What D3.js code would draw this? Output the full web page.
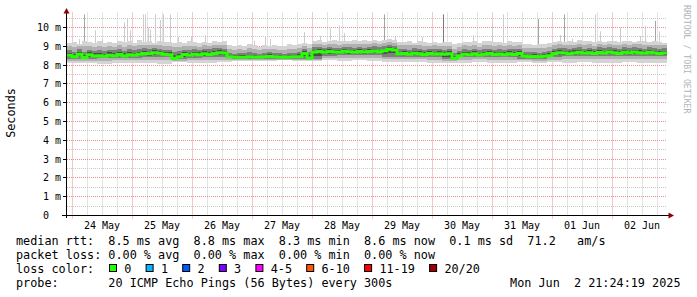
<!DOCTYPE html>
<html>
<head>
<meta charset="utf-8">
<title>SmokePing - last 10 days</title>
<script src="https://d3js.org/d3.v7.min.js"></script>
<style>
    body { margin: 0; background: #fff; }
    svg text { font-family: "DejaVu Sans Mono", monospace; white-space: pre; }
    .tick-label { font-size: 10px; fill: #000; }
    .legend { font-size: 11.8px; fill: #000; }
    .credit { font-size: 8.2px; fill: #b4b4b4; }
</style>
</head>
<body>
<svg width="697" height="297"></svg>
<script>
// time span of the graph
var start = new Date(2025, 4, 23, 22, 0);
var end = new Date(2025, 5, 2, 22, 0);
var slotHours = 2;   // resolution of medianRtt, coreHi and smokeMax
var bandHours = 6;   // resolution of smokeMin and coreLo

// median rtt in ms, one value per 2 hours
var medianRtt = [
    8.52, 8.45, 8.58, 8.40, 8.55, 8.48, 8.50,
    8.47, 8.53, 8.50, 8.56, 8.49, 8.55, 8.52,
    8.58, 8.62, 8.60, 8.66, 8.63, 8.58, 8.55,
    8.35, 8.45,
    8.56, 8.53, 8.58, 8.55, 8.60, 8.57, 8.62, 8.66, 8.64,
    8.45, 8.43, 8.42, 8.42, 8.44, 8.43, 8.42, 8.45, 8.46, 8.44, 8.43, 8.42, 8.43, 8.44, 8.45, 8.62, 8.38,
    8.70, 8.72, 8.68, 8.73, 8.70, 8.69, 8.74, 8.71, 8.68, 8.72, 8.70, 8.73, 8.75, 8.71, 8.76, 8.85, 8.80,
    8.60, 8.62, 8.58, 8.63, 8.60, 8.57, 8.62, 8.59, 8.61, 8.58, 8.60, 8.36,
    8.50, 8.58, 8.55, 8.60, 8.54, 8.58, 8.62, 8.56, 8.59, 8.55, 8.60, 8.57, 8.62,
    8.48, 8.45, 8.46, 8.44, 8.47, 8.50,
    8.62, 8.66, 8.64, 8.60, 8.65, 8.68, 8.63, 8.66, 8.62, 8.67, 8.64, 8.70, 8.66, 8.62, 8.68, 8.64, 8.70, 8.66, 8.63, 8.68, 8.65, 8.62, 8.64
];

// slowest regular ping per 2 hours (ms)
var smokeMax = [
    9.20, 9.25, 9.15, 9.30, 9.22, 9.18, 9.28, 9.20, 9.25, 9.18, 9.30, 9.22, 9.26, 9.20, 9.32, 9.24,
    9.28, 9.20, 9.30, 9.25, 9.22, 9.18, 9.24, 9.20, 9.26, 9.22, 9.18, 9.25, 9.20, 9.28, 9.24, 9.30,
    9.05, 9.00, 9.08, 9.02, 9.10, 9.05, 8.98, 9.06, 9.02, 9.08, 9.04, 9.00, 9.10, 9.05, 9.12, 9.20, 9.10,
    9.28, 9.32, 9.25, 9.30, 9.35, 9.28, 9.30, 9.26, 9.32, 9.28, 9.34, 9.30, 9.36, 9.30, 9.32, 9.40, 9.35,
    9.25, 9.22, 9.28, 9.20, 9.26, 9.22, 9.18, 9.25, 9.20, 9.24, 9.22, 9.10,
    9.20, 9.25, 9.22, 9.28, 9.20, 9.26, 9.30, 9.22, 9.25, 9.20, 9.28, 9.24, 9.22,
    9.10, 9.12, 9.08, 9.15, 9.10, 9.18,
    9.25, 9.30, 9.22, 9.28, 9.25, 9.32, 9.26, 9.30, 9.22, 9.28, 9.25, 9.30, 9.26, 9.22, 9.30, 9.28,
    9.24, 9.30, 9.26, 9.22, 9.28, 9.25, 9.20
];

// upper quartile per 2 hours (ms)
var coreHi = [
    8.80, 8.72, 8.85, 8.70, 8.82, 8.76, 8.80,
    8.74, 8.82, 8.78, 8.86, 8.76, 8.84, 8.80,
    8.86, 8.90, 8.84, 8.92, 8.88, 8.82, 8.80,
    8.70, 8.74,
    8.82, 8.78, 8.86, 8.80, 8.88, 8.84, 8.90, 8.92, 8.88,
    8.64, 8.60, 8.66, 8.62, 8.68, 8.62, 8.60, 8.66, 8.68, 8.64, 8.62, 8.60, 8.64, 8.66, 8.70, 8.84, 8.70,
    8.94, 8.98, 8.92, 8.96, 8.92, 8.90, 8.98, 8.94, 8.90, 8.96, 8.92, 8.98, 9.00, 8.94, 9.00, 9.06, 9.02,
    8.84, 8.88, 8.82, 8.90, 8.86, 8.80, 8.88, 8.84, 8.86, 8.82, 8.86, 8.66,
    8.76, 8.84, 8.80, 8.86, 8.78, 8.84, 8.88, 8.82, 8.86, 8.80, 8.88, 8.84, 8.88,
    8.70, 8.68, 8.70, 8.66, 8.72, 8.76,
    8.88, 8.92, 8.90, 8.86, 8.92, 8.94, 8.88, 8.92, 8.86, 8.94, 8.90, 8.96, 8.92, 8.88, 8.94, 8.90,
    8.96, 8.92, 8.88, 8.94, 8.90, 8.86, 8.90
];

// fastest ping and lower quartile per 6 hours (ms)
var smokeMin = [
    8.10, 8.12, 8.08, 8.12, 8.10, 8.12, 8.05, 8.15, 8.12, 8.10, 8.15,
    8.22, 8.24, 8.22, 8.25, 8.23, 8.20,
    8.25, 8.22, 8.25, 8.20, 8.18, 8.15, 8.15, 8.12, 8.10,
    8.12, 8.15, 8.12, 8.10, 8.15, 8.12, 8.14, 8.12, 8.15, 8.10, 8.12, 8.15, 8.10, 8.12
];
var coreLo = [
    8.35, 8.35, 8.38, 8.38, 8.40, 8.42, 8.45, 8.30, 8.38, 8.42, 8.42,
    8.32, 8.33, 8.32, 8.32, 8.33, 8.30,
    8.50, 8.52, 8.52, 8.55, 8.45, 8.45, 8.45, 8.45, 8.30,
    8.42, 8.45, 8.45, 8.45, 8.35, 8.33, 8.45, 8.48, 8.48, 8.50, 8.50, 8.48, 8.50, 8.48
];

// single slow pings: hours after start, rtt in ms, shade
var spikeHours = [4.8, 6.8, 11.2, 14, 22.8, 24, 25.2, 30.4, 31.2, 32.4, 33.2, 35.2, 37.2, 38.4, 41.2,
    44.4, 49.6, 55.2, 74.8, 79.2, 81.2, 94.8, 101.2, 105.2, 108.8, 110.8, 126.8, 131.2, 142, 150.8,
    162.4, 170, 174.4, 188.8, 197.2, 198.8, 202, 211.2, 213.2, 218, 221.2, 229.2, 231.2, 235.2, 236.8];
var spikeMs = [9.39, 10.7, 9.85, 9.4, 10.28, 10.45, 9.85, 10.7, 10.7, 10.0, 9.9, 10.7, 10.4, 10.7, 10.7,
    9.5, 9.5, 9.6, 9.3, 9.55, 9.4, 9.75, 9.55, 9.95, 10.1, 9.7, 10.7, 9.5, 9.5, 10.7,
    9.6, 10.2, 10.7, 10.45, 9.6, 10.7, 9.4, 10.7, 9.8, 9.5, 10.0, 9.55, 10.1, 10.35, 9.8];
var spikeShade = ["l", "m", "l", "l", "l", "l", "l", "l", "l", "l", "l", "l", "l", "l", "l",
    "l", "l", "l", "l", "l", "l", "l", "l", "l", "l", "l", "m", "l", "l", "d",
    "l", "l", "l", "m", "l", "m", "l", "l", "l", "l", "l", "l", "l", "m", "l"];

// y axis ticks (ms)
var yTicks = [0, 1, 2, 3, 4, 5, 6, 7, 8, 9, 10];

// legend values
var rttNames = ["avg", "max", "min", "now"];
var rttValues = [8.5, 8.8, 8.3, 8.6];
var rttSd = 0.1;
var rttAmS = 71.2;
var lossValues = [0, 0, 0, 0];
var lossBins = ["0", "1", "2", "3", "4-5", "6-10", "11-19", "20/20"];
var lossColors = ["#26ff00", "#00b8ff", "#0059ff", "#7e00ff", "#ff00ff", "#ff5500", "#ff0000", "#a00000"];
var probeText = "20 ICMP Echo Pings (56 Bytes) every 300s";
var dateText = "Mon Jun  2 21:24:19 2025";

var svg = d3.select("svg");

var x = d3.scaleTime().domain([start, end]).range([67, 667]);
var y = d3.scaleLinear().domain([0, 10.8]).range([215.5, 12.5]);

var px = function (v) { return Math.floor(v) + 0.5; };

// grid
var grid = svg.append("g").attr("stroke-dasharray", "1,1").attr("stroke-width", 1);
var minorT = d3.timeHour.every(6).range(start, end).filter(function (d) { return d.getHours() !== 0; });
var majorT = d3.timeDay.range(start, end);

grid.selectAll(".vminor").data(minorT).enter().append("line")
    .attr("x1", function (d) { return px(x(d)); }).attr("x2", function (d) { return px(x(d)); })
    .attr("y1", y(10.8)).attr("y2", 215).attr("stroke", "#c8c8c8");
grid.selectAll(".hminor").data(d3.range(0.5, 10.6, 1)).enter().append("line")
    .attr("x1", 67).attr("x2", 667)
    .attr("y1", function (d) { return px(y(d)); }).attr("y2", function (d) { return px(y(d)); })
    .attr("stroke", "#c8c8c8");
grid.selectAll(".vmajor").data(majorT).enter().append("line")
    .attr("x1", function (d) { return px(x(d)); }).attr("x2", function (d) { return px(x(d)); })
    .attr("y1", y(10.8)).attr("y2", 219).attr("stroke", "#e89090");
grid.selectAll(".hmajor").data(yTicks.slice(1)).enter().append("line")
    .attr("x1", 67).attr("x2", 667)
    .attr("y1", function (d) { return px(y(d)); }).attr("y2", function (d) { return px(y(d)); })
    .attr("stroke", "#e89090");

// smoke
var slots = medianRtt.map(function (m, i) {
    var j = Math.floor(i * slotHours / bandHours);
    return {
        t0: d3.timeHour.offset(start, i * slotHours),
        t1: d3.timeHour.offset(start, (i + 1) * slotHours),
        m: m, lo: smokeMin[j], cl: coreLo[j], ch: coreHi[i], hi: smokeMax[i]
    };
});

var bands = [
    { color: "#d4d4d4", lo: function (d) { return d.lo; }, hi: function (d) { return d.hi; } },
    { color: "#b0b0b0", lo: function (d) { return (d.lo + d.cl) / 2; }, hi: function (d) { return (d.ch + d.hi) / 2; } },
    { color: "#7e7e7e", lo: function (d) { return d.cl; }, hi: function (d) { return d.ch; } },
    { color: "#4a4a4a", lo: function (d) { return (d.cl + d.m) / 2; }, hi: function (d) { return (d.ch + d.m) / 2; } }
];

var shadeColor = { l: "#cccccc", m: "#a4a4a4", d: "#787878" };
svg.append("g").selectAll("rect").data(spikeHours).enter().append("rect")
    .attr("x", function (h) { return Math.floor(x(new Date(+start + h * 3600000))); })
    .attr("width", 1)
    .attr("y", function (h, i) { return y(Math.min(spikeMs[i], 10.8)); })
    .attr("height", function (h, i) { return y(9.0) - y(Math.min(spikeMs[i], 10.8)); })
    .attr("fill", function (h, i) { return shadeColor[spikeShade[i]]; });

bands.forEach(function (b) {
    svg.append("g").attr("shape-rendering", "crispEdges")
        .selectAll("rect").data(slots).enter().append("rect")
        .attr("x", function (d) { return x(d.t0); })
        .attr("width", function (d) { return x(d.t1) - x(d.t0); })
        .attr("y", function (d) { return y(b.hi(d)); })
        .attr("height", function (d) { return y(b.lo(d)) - y(b.hi(d)); })
        .attr("fill", b.color);
});

// median line
var medPts = slots.map(function (d) { return [d.t0, d.m]; });
medPts.push([end, medianRtt[medianRtt.length - 1]]);
svg.append("path")
    .attr("d", d3.line().x(function (d) { return x(d[0]); }).y(function (d) { return y(d[1]); })
        .curve(d3.curveStepAfter)(medPts))
    .attr("fill", "none").attr("stroke", lossColors[0]).attr("stroke-width", 3);

// axes
svg.append("line").attr("x1", 62).attr("x2", 669).attr("y1", 215.5).attr("y2", 215.5).attr("stroke", "#000");
svg.append("line").attr("x1", 66.5).attr("x2", 66.5).attr("y1", 218).attr("y2", 12).attr("stroke", "#000");
svg.append("path").attr("d", "M66.5,8L63.5,13.5L69.5,13.5Z").attr("fill", "#900000");
svg.append("path").attr("d", "M674,215.5L668.5,212.5L668.5,218.5Z").attr("fill", "#900000");

svg.append("g").selectAll("line").data(yTicks.slice(1)).enter().append("line")
    .attr("x1", 63).attr("x2", 67)
    .attr("y1", function (d) { return px(y(d)); }).attr("y2", function (d) { return px(y(d)); })
    .attr("stroke", "#000");

svg.append("g").selectAll("text").data(yTicks).enter().append("text")
    .attr("class", "tick-label")
    .attr("x", function (d) { return d === 0 ? 49 : 61; })
    .attr("y", function (d) { return y(d) + 3.5; })
    .attr("text-anchor", "end")
    .text(function (d) { return d === 0 ? "0" : d + " m"; });

svg.append("g").selectAll("text").data(majorT.map(function (d) { return d3.timeHour.offset(d, 12); })).enter()
    .append("text").attr("class", "tick-label")
    .attr("x", function (d) { return x(d); })
    .attr("y", 229)
    .attr("text-anchor", "middle")
    .text(d3.timeFormat("%d %b"));

// titles
svg.append("text").attr("class", "legend")
    .attr("transform", "translate(15,113) rotate(-90)")
    .attr("text-anchor", "middle").text("Seconds");
svg.append("text").attr("class", "credit")
    .attr("transform", "translate(684,5) rotate(90)")
    .text("RRDTOOL / TOBI OETIKER");

// legend
var line1 = "median rtt:  " + rttValues.map(function (v, i) { return v.toFixed(1) + " ms " + rttNames[i]; }).join("  ")
    + "  " + rttSd.toFixed(1) + " ms sd  " + rttAmS.toFixed(1) + "   am/s";
var line2 = "packet loss: " + lossValues.map(function (v, i) { return v.toFixed(2) + " % " + rttNames[i]; }).join("  ");
var legend = svg.append("g");
[line1, line2, "loss color:", "probe:       " + probeText].forEach(function (s, i) {
    legend.append("text").attr("class", "legend").attr("x", 16).attr("y", 244.5 + i * 14).text(s);
});
legend.append("text").attr("class", "legend").attr("x", 680.5).attr("y", 286.5)
    .attr("text-anchor", "end").text(dateText);

var charW = 7.1, bx = 109;
lossBins.forEach(function (b, i) {
    legend.append("rect").attr("x", bx + 0.5).attr("y", 264.5).attr("width", 7).attr("height", 7)
        .attr("fill", lossColors[i]).attr("stroke", "#000");
    legend.append("text").attr("class", "legend").attr("x", bx + 15.3).attr("y", 272.5).text(b);
    bx += 15.3 + (b.length + 2) * charW;
});
</script>
</body>
</html>
